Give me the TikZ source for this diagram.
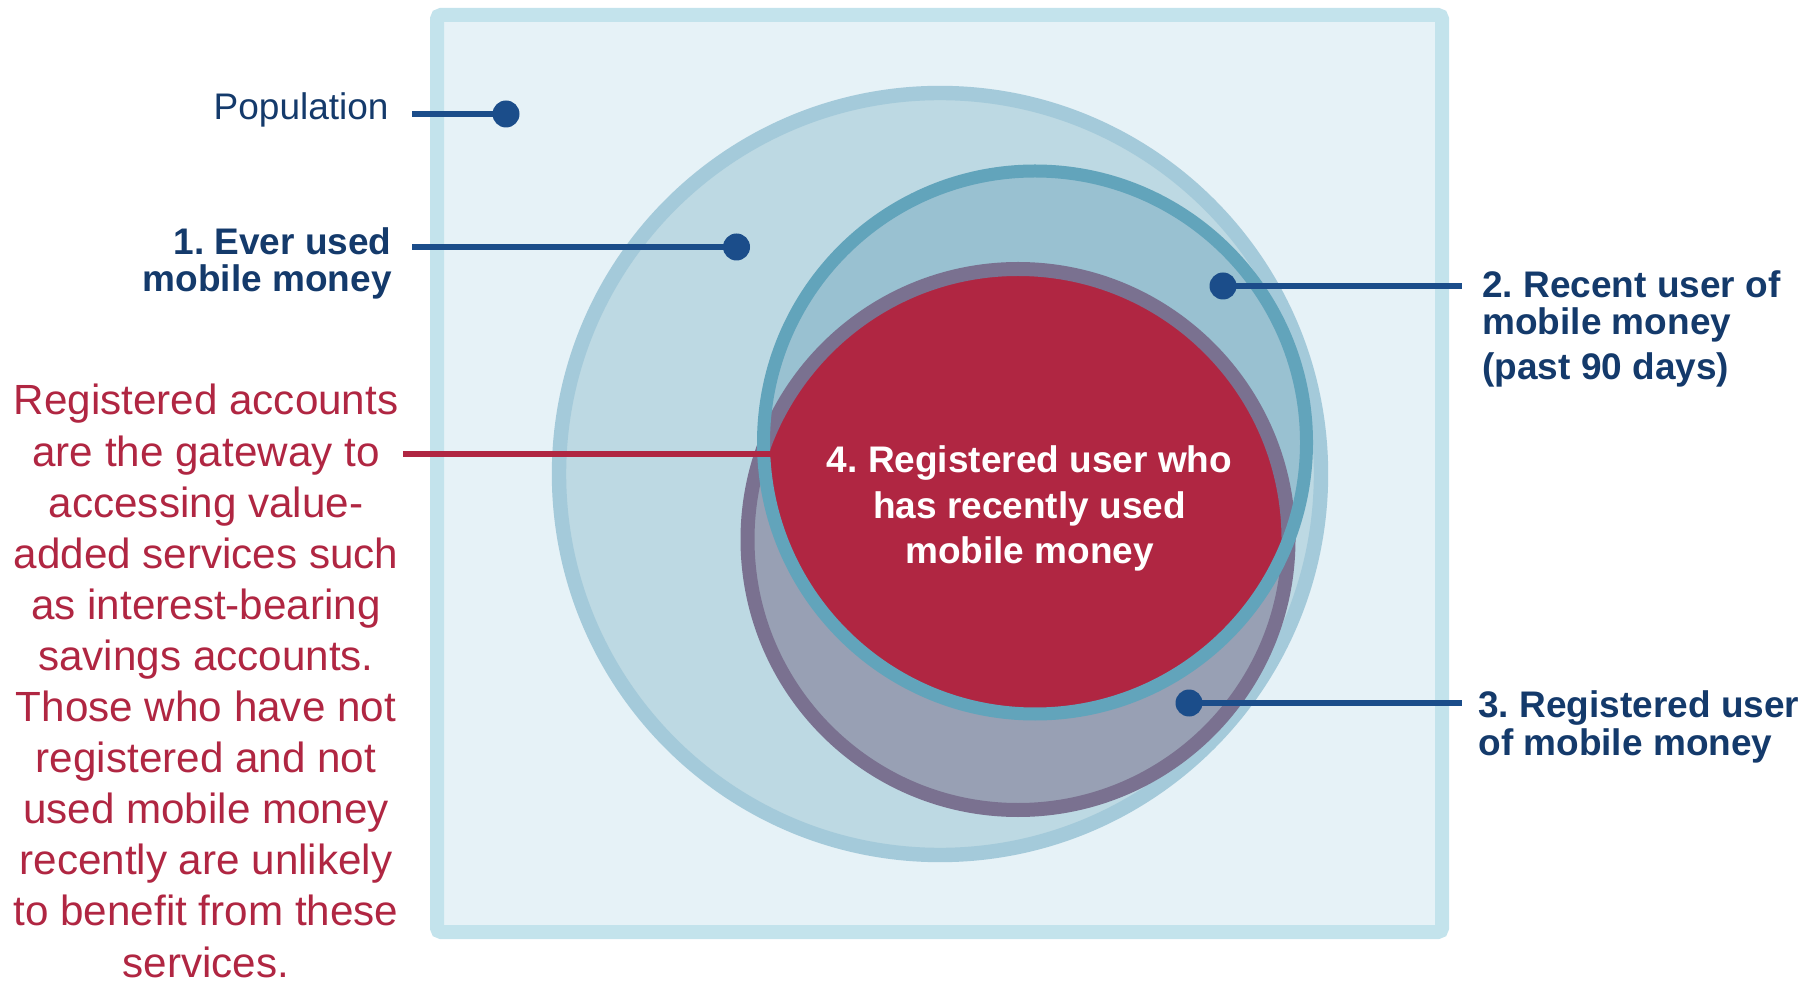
\documentclass[tikz,border=0pt]{standalone}
\usepackage{fontspec}
\setmainfont{Liberation Sans}
\frenchspacing
\definecolor{rectfill}{HTML}{E6F2F7}
\definecolor{rectdraw}{HTML}{C3E3EC}
\definecolor{cAfill}{HTML}{BDD9E3}
\definecolor{cAdraw}{HTML}{A4CADA}
\definecolor{cBfill}{HTML}{99C1D1}
\definecolor{cBdraw}{HTML}{62A4BB}
\definecolor{cCfill}{HTML}{98A0B4}
\definecolor{cCdraw}{HTML}{7A7190}
\definecolor{redfill}{HTML}{B02642}
\definecolor{navytext}{HTML}{143A6B}
\definecolor{navyline}{HTML}{1B4D8A}
\begin{document}
\begin{tikzpicture}[x=0.5pt,y=-0.5pt,
  lab/.style={inner sep=0pt, text=navytext, font=\fontsize{18.5pt}{18.75pt}\selectfont},
  boldlab/.style={lab, font=\fontsize{18.5pt}{18.75pt}\selectfont\bfseries},
  dotnode/.style={circle, fill=navyline, inner sep=0pt, minimum size=13.5pt},
  leader/.style={draw=navyline, line width=2.6pt},
  redleader/.style={draw=redfill, line width=2.8pt},
  notetext/.style={inner sep=0pt, text=redfill, align=center, font=\fontsize{21.1pt}{25.55pt}\selectfont},
  centertext/.style={inner sep=0pt, text=white, align=center, font=\fontsize{18.5pt}{22.75pt}\selectfont\bfseries}]
\useasboundingbox (0,0) rectangle (1804,983);
% population box
\draw[fill=rectfill, draw=rectdraw, line width=7pt, rounded corners=2pt] (437,15) rectangle (1442,932);
% circle 1
\fill[cAfill] (940,474) circle[radius=190.5pt];
\draw[cAdraw, line width=7.2pt] (940,474) circle[radius=190.5pt];
% circle 2 and 3 fills
\fill[cBfill] (1035,442.5) circle[radius=135.75pt];
\fill[cCfill] (1018,539.5) circle[radius=135.25pt];
% intersection
\begin{scope}
  \clip (1035,442.5) circle[radius=135.75pt];
  \fill[redfill] (1018,539.5) circle[radius=135.25pt];
\end{scope}
\draw[cCdraw, line width=7pt] (1018,539.5) circle[radius=135.25pt];
\draw[cBdraw, line width=6.5pt] (1035,442.5) circle[radius=135.75pt];
% dots
\node[dotnode] (d0) at (506,114) {};
\node[dotnode] (d1) at (736.5,247) {};
\node[dotnode] (d2) at (1223,286) {};
\node[dotnode] (d3) at (1189,703) {};
% leader ends
\coordinate (c0) at (412,114);
\coordinate (c1) at (412,247);
\coordinate (c2) at (1462,286);
\coordinate (c3) at (1462,703);
\coordinate (r0) at (403,454);
\coordinate (r1) at (773,454);
\draw[leader] (c0) -- (d0.center);
\draw[leader] (c1) -- (d1.center);
\draw[leader] (d2.center) -- (c2);
\draw[leader] (d3.center) -- (c3);
\draw[redleader] (r0) -- (r1);
% labels (base anchor = baseline of last line)
\node[lab, anchor=base east] (pop) at (389,120) {Population};
\node[boldlab, anchor=base east, align=right] (l1) at (392,292) {1. Ever used\\mobile money};
\node[boldlab, anchor=base west, align=left] (l2) at (1482,380) {2. Recent user of\\mobile money\\[3.75pt](past 90 days)};
\node[boldlab, anchor=base west, align=left] (l3) at (1478,755) {3. Registered user\\of mobile money};
\node[centertext, anchor=base] (t4) at (1029.5,564) {4. Registered user who\\has recently used\\mobile money};
\node[notetext, anchor=base] (note) at (206,977) {Registered accounts\\are the gateway to\\accessing value-\\added services such\\as interest-bearing\\savings accounts.\\Those who have not\\registered and not\\used mobile money\\recently are unlikely\\to benefit from these\\services.};
\end{tikzpicture}
\end{document}
